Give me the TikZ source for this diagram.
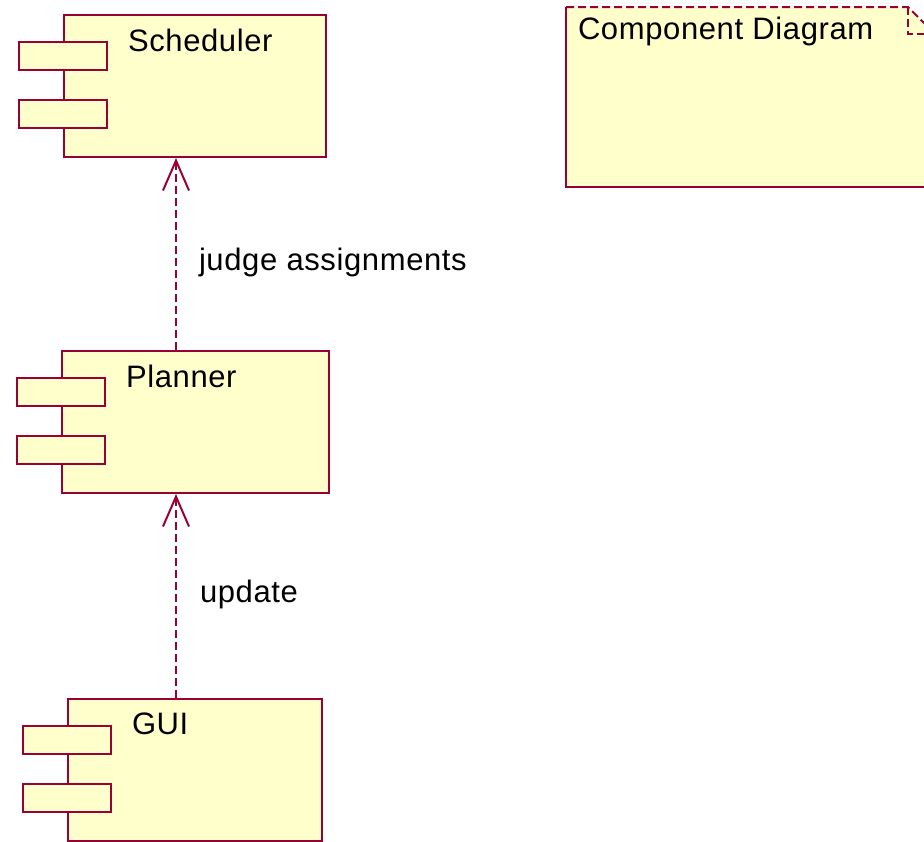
\documentclass[tikz,border=0pt]{standalone}
\usepackage{fontspec}
\setmainfont[LetterSpace=2]{Liberation Sans}
\usetikzlibrary{arrows.meta, positioning, calc}
\definecolor{cline}{HTML}{990033}
\definecolor{cfill}{HTML}{FFFFCC}
\tikzset{
  every picture/.style={x=1pt, y=1pt, line width=2pt, font=\fontsize{31}{36}\selectfont},
  comp/.style={draw=cline, fill=cfill, inner sep=0pt},
  tab/.style={draw=cline, fill=cfill},
  dep/.style={draw=cline, dash pattern=on 8pt off 4pt, -{Straight Barb[length=30pt, width=26pt, line width=2pt]}},
  lbl/.style={inner sep=0pt, anchor=base west},
}
\begin{document}
\begin{tikzpicture}
  \useasboundingbox (0,0) rectangle (924,-841);
  \clip (0,0) rectangle (924,-841);
  % components: name/x/y/width/text
  \foreach \n/\x/\y/\w/\t in {sched/195/-86/262/Scheduler, plan/195.5/-422/267/Planner, gui/195/-769.5/254/GUI} {
    \node[comp, minimum width=\w pt, minimum height=142pt] (\n) at (\x,\y) {};
    \draw[tab] ($(\n.north west)+(-44,-28)$) rectangle ++(88,-28);
    \draw[tab] ($(\n.north west)+(-44,-86)$) rectangle ++(88,-28);
    \node[lbl] (\n-t) at ($(\n.north west)+(64,-37)$) {\t};
  }
  % note, cut off at the right
  \fill[cfill] (566,-7) -- (908,-7) -- (935,-34) -- (935,-187) -- (566,-187) -- cycle;
  \draw[cline] (935,-187) -- (566,-187) -- (566,-7);
  \draw[cline, dash pattern=on 8pt off 4pt] (566,-7) -- (908,-7) -- (935,-34);
  \draw[cline, dash pattern=on 8pt off 4pt] (908,-7) -- (908,-34) -- (935,-34);
  \node[lbl] (note) at (577,-39) {Component Diagram};
  % dependencies
  \draw[dep] ([xshift=-19.5pt]plan.north) -- node[pos=0.47, anchor=west, xshift=22pt, yshift=-3pt, inner sep=0pt] (l1) {judge assignments} ([xshift=-19pt]sched.south);
  \draw[dep] ([xshift=-19pt]gui.north) -- node[pos=0.52, anchor=west, xshift=23pt, yshift=-3pt, inner sep=0pt] (l2) {update} ([xshift=-19.5pt]plan.south);
\end{tikzpicture}
\end{document}
